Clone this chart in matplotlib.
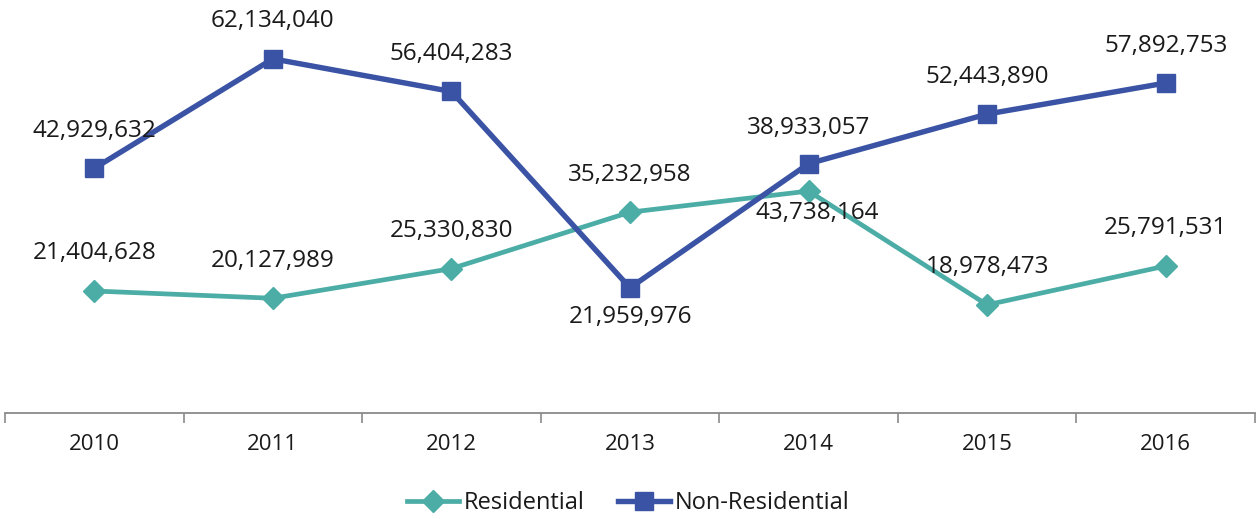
import matplotlib
matplotlib.use("Agg")
import matplotlib.pyplot as plt
import numpy as np

years = ["2010", "2011", "2012", "2013", "2014", "2015", "2016"]
residential = [21404628, 20127989, 25330830, 35232958, 38933057, 18978473, 25791531]
non_residential = [42929632, 62134040, 56404283, 21959976, 43738164, 52443890, 57892753]
residential_labels = ["21,404,628", "20,127,989", "25,330,830", "35,232,958",
                      "43,738,164", "18,978,473", "25,791,531"]
non_residential_labels = ["42,929,632", "62,134,040", "56,404,283", "21,959,976",
                          "38,933,057", "52,443,890", "57,892,753"]

plt.rcParams['font.family'] = ['Open Sans', 'DejaVu Sans']

W, H = 1257, 519
fig = plt.figure(figsize=(W / 100, H / 100), dpi=100)
ax = fig.add_axes([5 / W, (H - 413) / H, 1250 / W, 413 / H])

teal = "#4BADA5"
navy = "#3A53A4"
x = np.arange(len(years))

ax.plot(x, residential, color=teal, lw=3.4, marker="D", markersize=11,
        label="Residential", zorder=3)
ax.plot(x, non_residential, color=navy, lw=3.9, marker="s", markersize=13,
        label="Non-Residential", zorder=4)

res_off = [27, 27, 27, 27, -16, 27, 27]
non_off = [27, 27, 27, -21, 26, 27, 27]
for i in range(len(years)):
    dx = 6 if i == 4 else 0
    ax.annotate(residential_labels[i], (x[i], residential[i]), xytext=(dx, res_off[i]),
                textcoords="offset points", ha="center", va="center",
                fontsize=17.5, color="#1a1a1a", zorder=5)
    ax.annotate(non_residential_labels[i], (x[i], non_residential[i]), xytext=(0, non_off[i]),
                textcoords="offset points", ha="center", va="center",
                fontsize=17.5, color="#1a1a1a", zorder=5)

ax.set_xlim(-0.5, 6.5)
ax.set_ylim(0, 413 / 5.70 * 1e6)
ax.set_xticks(x)
ax.set_xticklabels(years, fontsize=16, color="#1a1a1a")
ax.set_xticks(np.arange(-0.5, 7.0, 1.0), minor=True)
ax.tick_params(axis="x", which="major", length=0, pad=15)
ax.tick_params(axis="x", which="minor", length=7, width=1.2, color="#8a8a8a", direction="out")
ax.set_yticks([])
for s in ["top", "right", "left"]:
    ax.spines[s].set_visible(False)
ax.spines["bottom"].set_color("#8a8a8a")
ax.spines["bottom"].set_linewidth(1.3)
ax.patch.set_visible(False)

fig.legend(loc="center", bbox_to_anchor=(0.5, (H - 503) / H), ncol=2, frameon=False,
           fontsize=17, handlelength=2.2, handletextpad=0.2, columnspacing=1.4,
           markerscale=1.0, labelcolor="#1a1a1a")

fig.savefig("out.png", dpi=100)
